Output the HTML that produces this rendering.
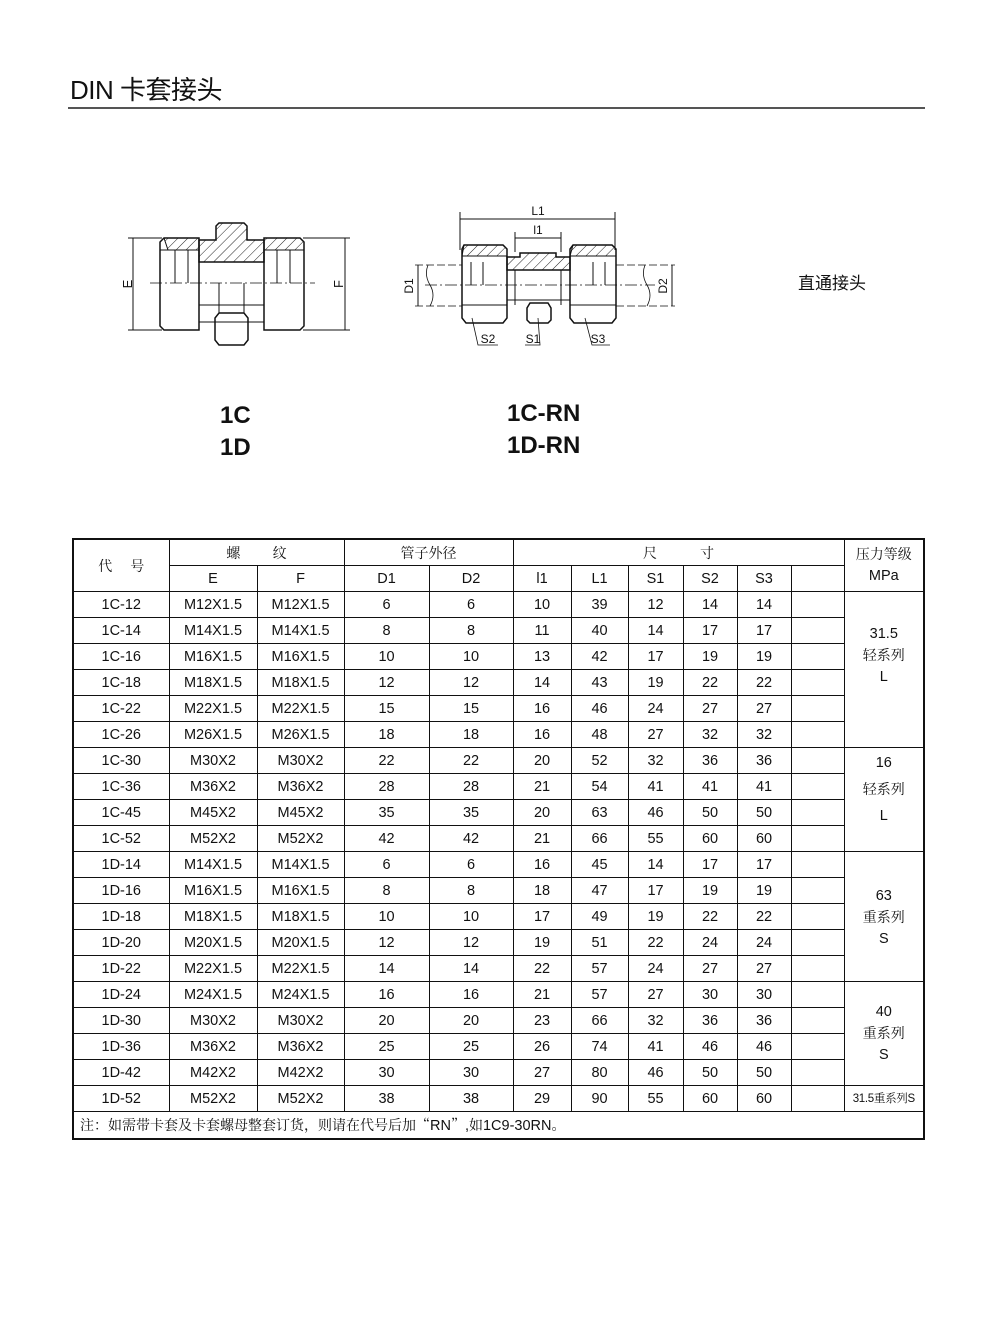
<!DOCTYPE html>
<html><head><meta charset="utf-8">
<style>
body{margin:0;background:#fff;width:1000px;height:1337px;position:relative;overflow:hidden;font-family:"Liberation Sans","Noto Sans CJK SC",sans-serif;color:#111}
.t{position:absolute;white-space:nowrap}
table{position:absolute;left:72px;top:538px;border-collapse:collapse;table-layout:fixed;width:851px;border:2px solid #111}
td{border:1px solid #111;text-align:center;font-size:14.5px;height:25px;padding:0;line-height:16px}
.cj{font-family:"Noto Serif CJK SC","Noto Sans CJK SC",serif;font-size:14px}
.grp{vertical-align:top;line-height:21px;padding-top:6px}
</style></head><body>
<div class="t" style="left:70px;top:70px;font-size:26px;letter-spacing:-0.5px">DIN 卡套接头</div>
<div style="position:absolute;left:68px;top:107px;width:857px;height:2px;background:#555"></div>

<svg width="1000" height="400" style="position:absolute;left:0;top:0" xmlns="http://www.w3.org/2000/svg">
<defs><pattern id="h" width="7" height="7" patternUnits="userSpaceOnUse" patternTransform="rotate(45)"><line x1="0" y1="0" x2="0" y2="7" stroke="#222" stroke-width="1"/></pattern></defs>
<g fill="none" stroke="#111" stroke-width="1.5">
<line x1="128" y1="238" x2="162" y2="238" stroke-width="1"/><line x1="128" y1="330" x2="162" y2="330" stroke-width="1"/>
<line x1="133" y1="238" x2="133" y2="330" stroke-width="1"/>
<line x1="303" y1="238" x2="350" y2="238" stroke-width="1"/><line x1="303" y1="330" x2="350" y2="330" stroke-width="1"/>
<line x1="345" y1="238" x2="345" y2="330" stroke-width="1"/>
<path d="M164 238 L199 238 L199 330 L164 330 L160 326 L160 242 Z"/>
<path d="M264 238 L300 238 L304 242 L304 326 L300 330 L264 330 Z"/>
<path d="M160 250 L199 250 M264 250 L304 250" stroke-width="1"/>
<path d="M175 250 L175 283 M188 250 L188 283 M277 250 L277 283 M290 250 L290 283" stroke-width="1"/>
<path d="M199 240 L216 240 L216 226 L219 223 L244 223 L247 226 L247 240 L264 240 L264 262 L199 262 Z" fill="url(#h)"/>
<path d="M164 238 L199 238 L199 250 L168 250 Z M264 238 L300 238 L304 242 L304 250 L264 250 Z" fill="url(#h)" stroke-width="1"/>
<path d="M199 305 L264 305 M199 322 L264 322" stroke-width="1"/>
<path d="M219 313 L244 313 L248 318 L248 340 L244 345 L219 345 L215 340 L215 318 Z"/>
<path d="M219 283 L219 313 M244 283 L244 313" stroke-width="1"/>
<line x1="150" y1="283" x2="315" y2="283" stroke-width="0.8" stroke-dasharray="12 3 2 3"/>
<line x1="460" y1="212" x2="460" y2="250" stroke-width="1"/><line x1="615" y1="212" x2="615" y2="250" stroke-width="1"/>
<line x1="460" y1="219" x2="615" y2="219" stroke-width="1"/>
<line x1="515" y1="232" x2="515" y2="252" stroke-width="1"/><line x1="561" y1="232" x2="561" y2="252" stroke-width="1"/>
<line x1="515" y1="238" x2="561" y2="238" stroke-width="1"/>
<path d="M464 245 L503 245 L507 249 L507 318 L503 323 L466 323 L462 318 L462 249 Z"/>
<path d="M573 245 L612 245 L616 249 L616 318 L612 323 L574 323 L570 318 L570 249 Z"/>
<path d="M464 245 L503 245 L507 249 L507 256 L462 256 Z M573 245 L612 245 L616 249 L616 256 L570 256 Z" fill="url(#h)" stroke-width="1"/>
<path d="M507 257 L520 257 L520 253 L556 253 L556 257 L570 257 L570 270 L507 270 Z" fill="url(#h)"/>
<path d="M507 270 L507 300 L570 300 L570 270 M515 270 L515 305 M561 270 L561 305" stroke-width="1"/>
<path d="M530 303 L548 303 L551 308 L551 320 L548 323 L530 323 L527 320 L527 308 Z"/>
<path d="M471 262 L471 285 M483 262 L483 285 M593 262 L593 285 M605 262 L605 285" stroke-width="1"/>
<path d="M462 305 L507 305 M570 305 L616 305" stroke-width="1"/>
<line x1="415" y1="265" x2="462" y2="265" stroke-width="0.8" stroke-dasharray="8 3"/>
<line x1="415" y1="306" x2="462" y2="306" stroke-width="0.8" stroke-dasharray="8 3"/>
<line x1="616" y1="265" x2="675" y2="265" stroke-width="0.8" stroke-dasharray="8 3"/>
<line x1="616" y1="306" x2="675" y2="306" stroke-width="0.8" stroke-dasharray="8 3"/>
<line x1="418" y1="265" x2="418" y2="306" stroke-width="1"/><line x1="672" y1="265" x2="672" y2="306" stroke-width="1"/>
<path d="M428 265 Q424 275 430 285 Q436 295 430 306 M645 265 Q641 275 647 285 Q653 295 647 306" stroke-width="0.8"/>
<line x1="425" y1="285" x2="655" y2="285" stroke-width="0.8" stroke-dasharray="12 3 2 3"/>
<path d="M472 318 L478 345 L498 345 M538 318 L540 345 L525 345 M585 318 L592 345 L610 345" stroke-width="0.8"/>
</g>
<g font-family="Liberation Sans,sans-serif" fill="#111">
<text x="127" y="289" font-size="13" transform="rotate(-90 127 284)" text-anchor="middle">E</text>
<text x="338" y="289" font-size="13" transform="rotate(-90 338 284)" text-anchor="middle">F</text>
<text x="538" y="215" font-size="12" text-anchor="middle">L1</text>
<text x="538" y="234" font-size="12" text-anchor="middle">l1</text>
<text x="413" y="286" font-size="12" transform="rotate(-90 413 286)" text-anchor="middle">D1</text>
<text x="667" y="286" font-size="12" transform="rotate(-90 667 286)" text-anchor="middle">D2</text>
<text x="488" y="343" font-size="12" text-anchor="middle">S2</text>
<text x="533" y="343" font-size="12" text-anchor="middle">S1</text>
<text x="598" y="343" font-size="12" text-anchor="middle">S3</text>
</g>
</svg>
<div class="t" style="left:798px;top:269px;font-size:17px;font-family:'Noto Sans CJK SC',sans-serif">直通接头</div>
<div class="t" style="left:220px;top:402px;font-size:24px;font-weight:bold">1C</div>
<div class="t" style="left:220px;top:434px;font-size:24px;font-weight:bold">1D</div>
<div class="t" style="left:507px;top:400px;font-size:24px;font-weight:bold">1C-RN</div>
<div class="t" style="left:507px;top:432px;font-size:24px;font-weight:bold">1D-RN</div>

<table>
<colgroup><col style="width:96px"><col style="width:88px"><col style="width:87px"><col style="width:85px"><col style="width:84px"><col style="width:58px"><col style="width:57px"><col style="width:55px"><col style="width:54px"><col style="width:54px"><col style="width:53px"><col style="width:80px"></colgroup>
<tr><td rowspan="2" class="cj">代&nbsp;&nbsp;&nbsp;&nbsp;&nbsp;号</td><td colspan="2" class="cj">螺&nbsp;&nbsp;&nbsp;&nbsp;&nbsp;&nbsp;&nbsp;&nbsp;&nbsp;纹</td><td colspan="2" class="cj">管子外径</td><td colspan="6" class="cj">尺&nbsp;&nbsp;&nbsp;&nbsp;&nbsp;&nbsp;&nbsp;&nbsp;&nbsp;&nbsp;&nbsp;&nbsp;寸</td><td rowspan="2" style="line-height:21px"><span class="cj">压力等级</span><br>MPa</td></tr>
<tr><td>E</td><td>F</td><td>D1</td><td>D2</td><td>l1</td><td>L1</td><td>S1</td><td>S2</td><td>S3</td><td></td></tr>
<tr><td>1C-12</td><td>M12X1.5</td><td>M12X1.5</td><td>6</td><td>6</td><td>10</td><td>39</td><td>12</td><td>14</td><td>14</td><td></td><td rowspan="6" class="grp" style="padding-top:32px">31.5<br><span class="cj">轻系列</span><br>L</td></tr>
<tr><td>1C-14</td><td>M14X1.5</td><td>M14X1.5</td><td>8</td><td>8</td><td>11</td><td>40</td><td>14</td><td>17</td><td>17</td><td></td></tr>
<tr><td>1C-16</td><td>M16X1.5</td><td>M16X1.5</td><td>10</td><td>10</td><td>13</td><td>42</td><td>17</td><td>19</td><td>19</td><td></td></tr>
<tr><td>1C-18</td><td>M18X1.5</td><td>M18X1.5</td><td>12</td><td>12</td><td>14</td><td>43</td><td>19</td><td>22</td><td>22</td><td></td></tr>
<tr><td>1C-22</td><td>M22X1.5</td><td>M22X1.5</td><td>15</td><td>15</td><td>16</td><td>46</td><td>24</td><td>27</td><td>27</td><td></td></tr>
<tr><td>1C-26</td><td>M26X1.5</td><td>M26X1.5</td><td>18</td><td>18</td><td>16</td><td>48</td><td>27</td><td>32</td><td>32</td><td></td></tr>
<tr><td>1C-30</td><td>M30X2</td><td>M30X2</td><td>22</td><td>22</td><td>20</td><td>52</td><td>32</td><td>36</td><td>36</td><td></td><td rowspan="4" class="grp" style="line-height:26px;padding-top:2px">16<br><span class="cj">轻系列</span><br>L</td></tr>
<tr><td>1C-36</td><td>M36X2</td><td>M36X2</td><td>28</td><td>28</td><td>21</td><td>54</td><td>41</td><td>41</td><td>41</td><td></td></tr>
<tr><td>1C-45</td><td>M45X2</td><td>M45X2</td><td>35</td><td>35</td><td>20</td><td>63</td><td>46</td><td>50</td><td>50</td><td></td></tr>
<tr><td>1C-52</td><td>M52X2</td><td>M52X2</td><td>42</td><td>42</td><td>21</td><td>66</td><td>55</td><td>60</td><td>60</td><td></td></tr>
<tr><td>1D-14</td><td>M14X1.5</td><td>M14X1.5</td><td>6</td><td>6</td><td>16</td><td>45</td><td>14</td><td>17</td><td>17</td><td></td><td rowspan="5" class="grp" style="padding-top:34px">63<br><span class="cj">重系列</span><br>S</td></tr>
<tr><td>1D-16</td><td>M16X1.5</td><td>M16X1.5</td><td>8</td><td>8</td><td>18</td><td>47</td><td>17</td><td>19</td><td>19</td><td></td></tr>
<tr><td>1D-18</td><td>M18X1.5</td><td>M18X1.5</td><td>10</td><td>10</td><td>17</td><td>49</td><td>19</td><td>22</td><td>22</td><td></td></tr>
<tr><td>1D-20</td><td>M20X1.5</td><td>M20X1.5</td><td>12</td><td>12</td><td>19</td><td>51</td><td>22</td><td>24</td><td>24</td><td></td></tr>
<tr><td>1D-22</td><td>M22X1.5</td><td>M22X1.5</td><td>14</td><td>14</td><td>22</td><td>57</td><td>24</td><td>27</td><td>27</td><td></td></tr>
<tr><td>1D-24</td><td>M24X1.5</td><td>M24X1.5</td><td>16</td><td>16</td><td>21</td><td>57</td><td>27</td><td>30</td><td>30</td><td></td><td rowspan="4" class="grp" style="padding-top:20px">40<br><span class="cj">重系列</span><br>S</td></tr>
<tr><td>1D-30</td><td>M30X2</td><td>M30X2</td><td>20</td><td>20</td><td>23</td><td>66</td><td>32</td><td>36</td><td>36</td><td></td></tr>
<tr><td>1D-36</td><td>M36X2</td><td>M36X2</td><td>25</td><td>25</td><td>26</td><td>74</td><td>41</td><td>46</td><td>46</td><td></td></tr>
<tr><td>1D-42</td><td>M42X2</td><td>M42X2</td><td>30</td><td>30</td><td>27</td><td>80</td><td>46</td><td>50</td><td>50</td><td></td></tr>
<tr><td>1D-52</td><td>M52X2</td><td>M52X2</td><td>38</td><td>38</td><td>29</td><td>90</td><td>55</td><td>60</td><td>60</td><td></td><td style="font-size:11.5px;letter-spacing:-0.3px">31.5<span class="cj" style="font-size:11.5px">重系列</span>S</td></tr>
<tr><td colspan="12" style="text-align:left;padding-left:6px;height:26px"><span class="cj">注：如需带卡套及卡套螺母整套订货，则请在代号后加“</span>RN<span class="cj">”</span>,<span class="cj">如</span>1C9-30RN<span class="cj">。</span></td></tr>
</table>
</body></html>
